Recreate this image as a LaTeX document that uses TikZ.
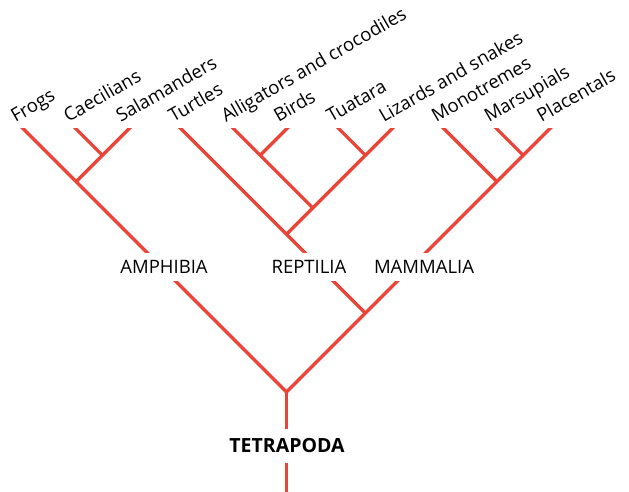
\documentclass[tikz,border=0pt]{standalone}
\usepackage{fontspec}
\setmainfont{Open Sans}
\definecolor{branchred}{RGB}{232,68,56}
\begin{document}
\begin{tikzpicture}[x=1pt,y=1pt,
  branch/.style={draw=branchred,line width=3.3pt,line cap=butt,line join=miter},
  tiplabel/.style={anchor=base west,rotate=30,inner sep=0pt,font=\fontsize{18.5}{20}\selectfont},
  grouplabel/.style={fill=white,inner sep=0pt,minimum height=28pt,font=\fontsize{18.5}{20}\selectfont},
  rootlabel/.style={fill=white,inner sep=0pt,minimum height=34pt,font=\fontsize{19.5}{21}\selectfont\bfseries}]
\useasboundingbox (0,0) rectangle (629,492);
% tips
\coordinate (frogs) at (23.5,363);
\coordinate (caec) at (76.1,363);
\coordinate (sala) at (128.7,363);
\coordinate (turt) at (181.3,363);
\coordinate (alli) at (233.9,363);
\coordinate (birds) at (286.5,363);
\coordinate (tuat) at (339.1,363);
\coordinate (liz) at (391.7,363);
\coordinate (mono) at (444.3,363);
\coordinate (mars) at (496.9,363);
\coordinate (plac) at (549.5,363);
% junctions
\coordinate (jCS) at (102.4,336.7);
\coordinate (jAmph) at (76.1,310.4);
\coordinate (jAB) at (260.2,336.7);
\coordinate (jTL) at (365.4,336.7);
\coordinate (jABTL) at (312.8,284.1);
\coordinate (jRep) at (286.5,257.8);
\coordinate (jRM) at (365.4,178.9);
\coordinate (jMP) at (523.2,336.7);
\coordinate (jMam) at (496.9,310.4);
\coordinate (root) at (286.5,100);
\coordinate (base) at (286.5,0);
\begin{scope}
\clip (0,0) rectangle (629,363);
\draw[branch] ([shift={(-3,3)}]frogs) -- (jAmph) -- (root) -- (jRM) -- (jMam) -- (jMP) -- ([shift={(3,3)}]plac);
\draw[branch] ([shift={(3,3)}]sala) -- (jCS) -- (jAmph);
\draw[branch] ([shift={(-3,3)}]caec) -- (jCS);
\draw[branch] ([shift={(-3,3)}]turt) -- (jRep) -- (jRM);
\draw[branch] ([shift={(3,3)}]liz) -- (jTL) -- (jABTL) -- (jRep);
\draw[branch] ([shift={(-3,3)}]alli) -- (jAB) -- (jABTL);
\draw[branch] ([shift={(3,3)}]birds) -- (jAB);
\draw[branch] ([shift={(-3,3)}]tuat) -- (jTL);
\draw[branch] ([shift={(-3,3)}]mono) -- (jMam);
\draw[branch] ([shift={(-3,3)}]mars) -- (jMP);
\draw[branch] (root) -- (base);
\end{scope}
% group labels
\node[grouplabel] (amph) at (164,225) {AMPHIBIA};
\node[grouplabel] (rept) at (309,225) {REPTILIA};
\node[grouplabel] (mamm) at (424,225) {MAMMALIA};
\node[rootlabel] (tetra) at (287,46) {TETRAPODA};
% tip labels
\node[tiplabel] (lfrogs) at ([shift={(-8,6)}]frogs) {Frogs};
\node[tiplabel] (lcaec) at ([shift={(-8,6)}]caec) {Caecilians};
\node[tiplabel] (lsala) at ([shift={(-8,6)}]sala) {Salamanders};
\node[tiplabel] (lturt) at ([shift={(-8,6)}]turt) {Turtles};
\node[tiplabel] (lalli) at ([shift={(-8,6)}]alli) {Alligators and crocodiles};
\node[tiplabel] (lbirds) at ([shift={(-8,6)}]birds) {Birds};
\node[tiplabel] (ltuat) at ([shift={(-8,6)}]tuat) {Tuatara};
\node[tiplabel] (lliz) at ([shift={(-8,6)}]liz) {Lizards and snakes};
\node[tiplabel] (lmono) at ([shift={(-8,6)}]mono) {Monotremes};
\node[tiplabel] (lmars) at ([shift={(-8,6)}]mars) {Marsupials};
\node[tiplabel] (lplac) at ([shift={(-8,6)}]plac) {Placentals};
\end{tikzpicture}
\end{document}
